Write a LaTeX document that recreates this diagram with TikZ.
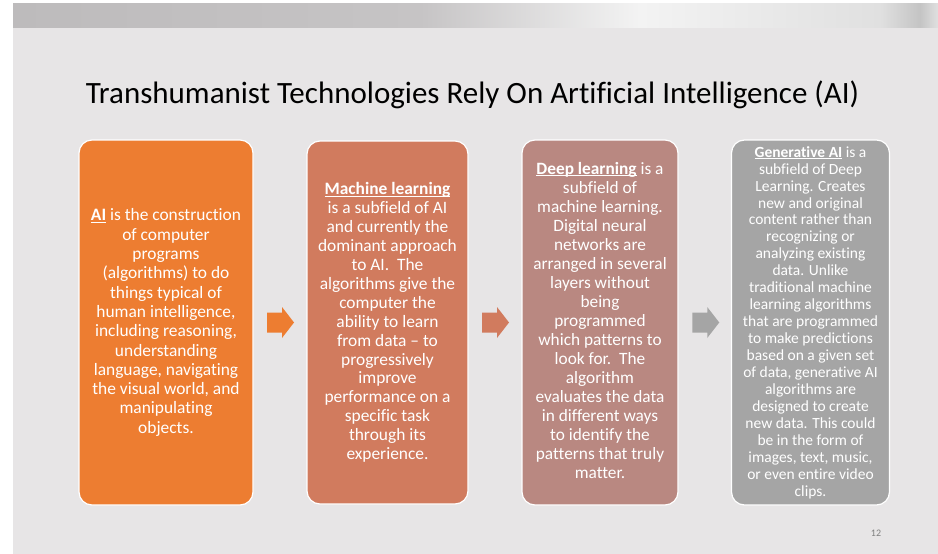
\documentclass[tikz,border=0pt]{standalone}
\usepackage{fontspec}
\setmainfont[Ligatures=NoCommon]{Carlito}
\usetikzlibrary{calc}

\definecolor{slidebg}{RGB}{231,229,230}
\definecolor{barA}{RGB}{189,187,188}
\definecolor{barB}{RGB}{198,196,197}
\definecolor{barC}{RGB}{243,243,243}
\definecolor{barD}{RGB}{224,224,224}
\definecolor{barE}{RGB}{196,196,196}
\definecolor{cardA}{RGB}{237,125,49}
\definecolor{cardB}{RGB}{209,123,94}
\definecolor{cardC}{RGB}{185,136,129}
\definecolor{cardD}{RGB}{165,165,165}
\definecolor{pagenum}{RGB}{127,127,127}

% bold term with a close, thin underline
\newcommand\termul[1]{\setbox0\hbox{\textbf{#1}}\rlap{\rule[-1.8pt]{\wd0}{1.1pt}}\box0\relax}

\tikzset{
  card/.style={draw=white, line width=1.2pt, rounded corners=13pt,
    inner sep=0pt, outer sep=0pt},
  cardtext/.style={text=white, align=center, inner sep=0pt},
  blockarrow/.pic={
    \fill[pic actions] (-13.5,-10) -- (1.5,-10) -- (1.5,-15.5) -- (13.5,0)
      -- (1.5,15.5) -- (1.5,10) -- (-13.5,10) -- cycle;
  }
}

\begin{document}
\begin{tikzpicture}[x=1pt,y=-1pt]
  % page and slide background
  \useasboundingbox (0,0) rectangle (938,554);
  \fill[white] (0,0) rectangle (938,554);
  \fill[slidebg] (13,3) rectangle (938,554);

  % shaded band along the top
  \shade[left color=barA, right color=barB] (13,3) rectangle (420,27);
  \shade[left color=barB, right color=barC] (420,3) rectangle (640,27);
  \shade[left color=barC, right color=barD] (640,3) rectangle (880,27);
  \shade[left color=barD, right color=barE] (880,3) rectangle (920,27);
  \shade[left color=barE, right color=barD] (920,3) rectangle (938,27);

  % title
  \node[anchor=base, inner sep=0pt, font=\fontsize{31}{37}\selectfont] (title)
    at (472.5,103) {Transhumanist Technologies Rely On Artificial Intelligence (AI)};

  % four cards
  \node[card, fill=cardA, minimum width=174pt, minimum height=365pt] (b1) at (166,322.5) {};
  \node[card, fill=cardB, minimum width=161pt, minimum height=363pt] (b2) at (387.5,322.5) {};
  \node[card, fill=cardC, minimum width=156pt, minimum height=365pt] (b3) at (600,322.5) {};
  \node[card, fill=cardD, minimum width=158pt, minimum height=365pt] (b4) at (810.5,322.5) {};

  % card texts
  \node[cardtext, font=\fontsize{17.4}{19.3}\selectfont] (t1) at (b1.center) {%
    \termul{AI} is the construction\\ of computer\\ programs\\
    (algorithms) to do\\ things typical of\\ human intelligence,\\
    including reasoning,\\ understanding\\ language, navigating\\
    the visual world, and\\ manipulating\\ objects.};
  \node[cardtext, font=\fontsize{17.4}{18.9}\selectfont] (t2) at (b2.center) {%
    \termul{Machine learning}\\ is a subfield of AI\\ and currently the\\
    dominant approach\\ to AI.\ \ The\\ algorithms give the\\ computer the\\
    ability to learn\\ from data -- to\\ progressively\\ improve\\
    performance on a\\ specific task\\ through its\\ experience.};
  \node[cardtext, font=\fontsize{17.3}{19.05}\selectfont] (t3) at ($(b3.center)+(0,-2)$) {%
    \termul{Deep learning} is a\\ subfield of\\ machine learning.\\
    Digital neural\\ networks are\\ arranged in several\\ layers without\\
    being\\ programmed\\ which patterns to\\ look for.\ \ The\\ algorithm\\
    evaluates the data\\ in different ways\\ to identify the\\
    patterns that truly\\ matter.};
  \node[cardtext, font=\fontsize{15.5}{16.95}\selectfont] (t4) at (b4.center) {%
    \termul{Generative AI} is a\\ subfield of Deep\\ Learning. Creates\\
    new and original\\ content rather than\\ recognizing or\\ analyzing existing\\
    data. Unlike\\ traditional machine\\ learning algorithms\\ that are programmed\\
    to make predictions\\ based on a given set\\ of data, generative AI\\
    algorithms are\\ designed to create\\ new data. This could\\ be in the form of\\
    images, text, music,\\ or even entire video\\ clips.};

  % block arrows between the cards
  \coordinate (m1) at ($(b1.east)!0.5!(b2.west)$);
  \coordinate (m2) at ($(b2.east)!0.5!(b3.west)$);
  \coordinate (m3) at ($(b3.east)!0.5!(b4.west)$);
  \pic[fill=cardA] (a1) at ($(m1)+(0.5,0)$) {blockarrow};
  \pic[fill=cardB] (a2) at ($(m2)+(0.5,0)$) {blockarrow};
  \pic[fill=cardD] (a3) at ($(m3)+(1,0)$) {blockarrow};

  % slide number
  \node[text=pagenum, font=\fontsize{10}{12}\selectfont, inner sep=0pt] (pg) at (876,533) {12};
\end{tikzpicture}
\end{document}
